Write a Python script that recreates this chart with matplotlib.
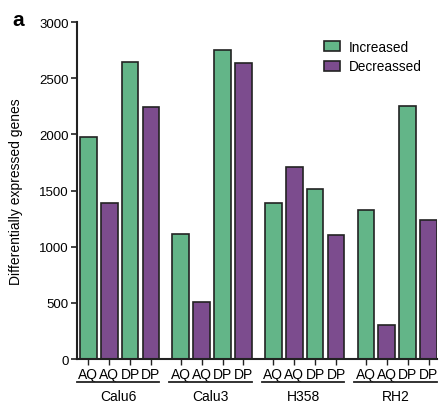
import numpy as np
import matplotlib.pyplot as plt
import matplotlib.transforms as mtransforms
from matplotlib.patches import Patch

plt.rcParams['font.family'] = ['Liberation Sans', 'DejaVu Sans']

# data
cell_lines = ['Calu6', 'Calu3', 'H358', 'RH2']
bar_labels = ['AQ', 'AQ', 'DP', 'DP']
increased_aq = [1980, 1115, 1390, 1325]
decreased_aq = [1390, 510, 1705, 305]
increased_dp = [2645, 2755, 1515, 2255]
decreased_dp = [2245, 2635, 1100, 1240]

green = '#63b588'
purple = '#7c4c8e'
edge = '#222222'

fig = plt.figure(figsize=(4.4, 4.06), dpi=100)
ax = fig.add_axes([0.175, 0.1133, 0.818, 0.830])

group_step = 4.43
width = 0.8
series = [(increased_aq, green), (decreased_aq, purple),
          (increased_dp, green), (decreased_dp, purple)]

xticks = []
xlabels = []
for j, (vals, col) in enumerate(series):
    x = np.arange(len(cell_lines)) * group_step + j
    ax.bar(x, vals, width=width, color=col, edgecolor=edge, linewidth=1.2, zorder=2)
for i in range(len(cell_lines)):
    for j in range(4):
        xticks.append(i * group_step + j)
        xlabels.append(bar_labels[j])

ax.set_xticks(xticks)
ax.set_xticklabels(xlabels, fontsize=10)
ax.tick_params(axis='x', length=4, width=1, pad=1.5, color=edge)
ax.tick_params(axis='y', length=4, width=1.2, labelsize=9.5, pad=2, color=edge)

ax.set_ylim(0, 3000)
ax.set_yticks([0, 500, 1000, 1500, 2000, 2500, 3000])
ax.set_xlim(-0.54, (len(cell_lines) - 1) * group_step + 3 + width / 2)

for s in ['top', 'right']:
    ax.spines[s].set_visible(False)
for s in ['left', 'bottom']:
    ax.spines[s].set_linewidth(1.5)
    ax.spines[s].set_color(edge)

ax.set_ylabel('Differentially expressed genes', fontsize=10, labelpad=11.5)

# group labels with underline
trans = mtransforms.blended_transform_factory(ax.transData, ax.transAxes)
for i, name in enumerate(cell_lines):
    x0 = i * group_step - 0.55
    x1 = i * group_step + 3 + width / 2
    ax.plot([x0, x1], [-0.068, -0.068], color=edge, lw=1.3,
            transform=trans, clip_on=False)
    ax.text((x0 + x1) / 2, -0.088, name, transform=trans, ha='center',
            va='top', fontsize=10)

handles = [Patch(facecolor=green, edgecolor=edge, linewidth=1.2, label='Increased'),
           Patch(facecolor=purple, edgecolor=edge, linewidth=1.2, label='Decreassed')]
ax.legend(handles=handles, loc='upper left', bbox_to_anchor=(0.66, 0.975),
          frameon=False, fontsize=9.8, handlelength=1.2, handleheight=0.75,
          handletextpad=0.6, labelspacing=0.4, borderpad=0.2)

fig.text(0.028, 0.935, 'a', fontsize=15, fontweight='bold')

fig.savefig('out.png', dpi=100)
